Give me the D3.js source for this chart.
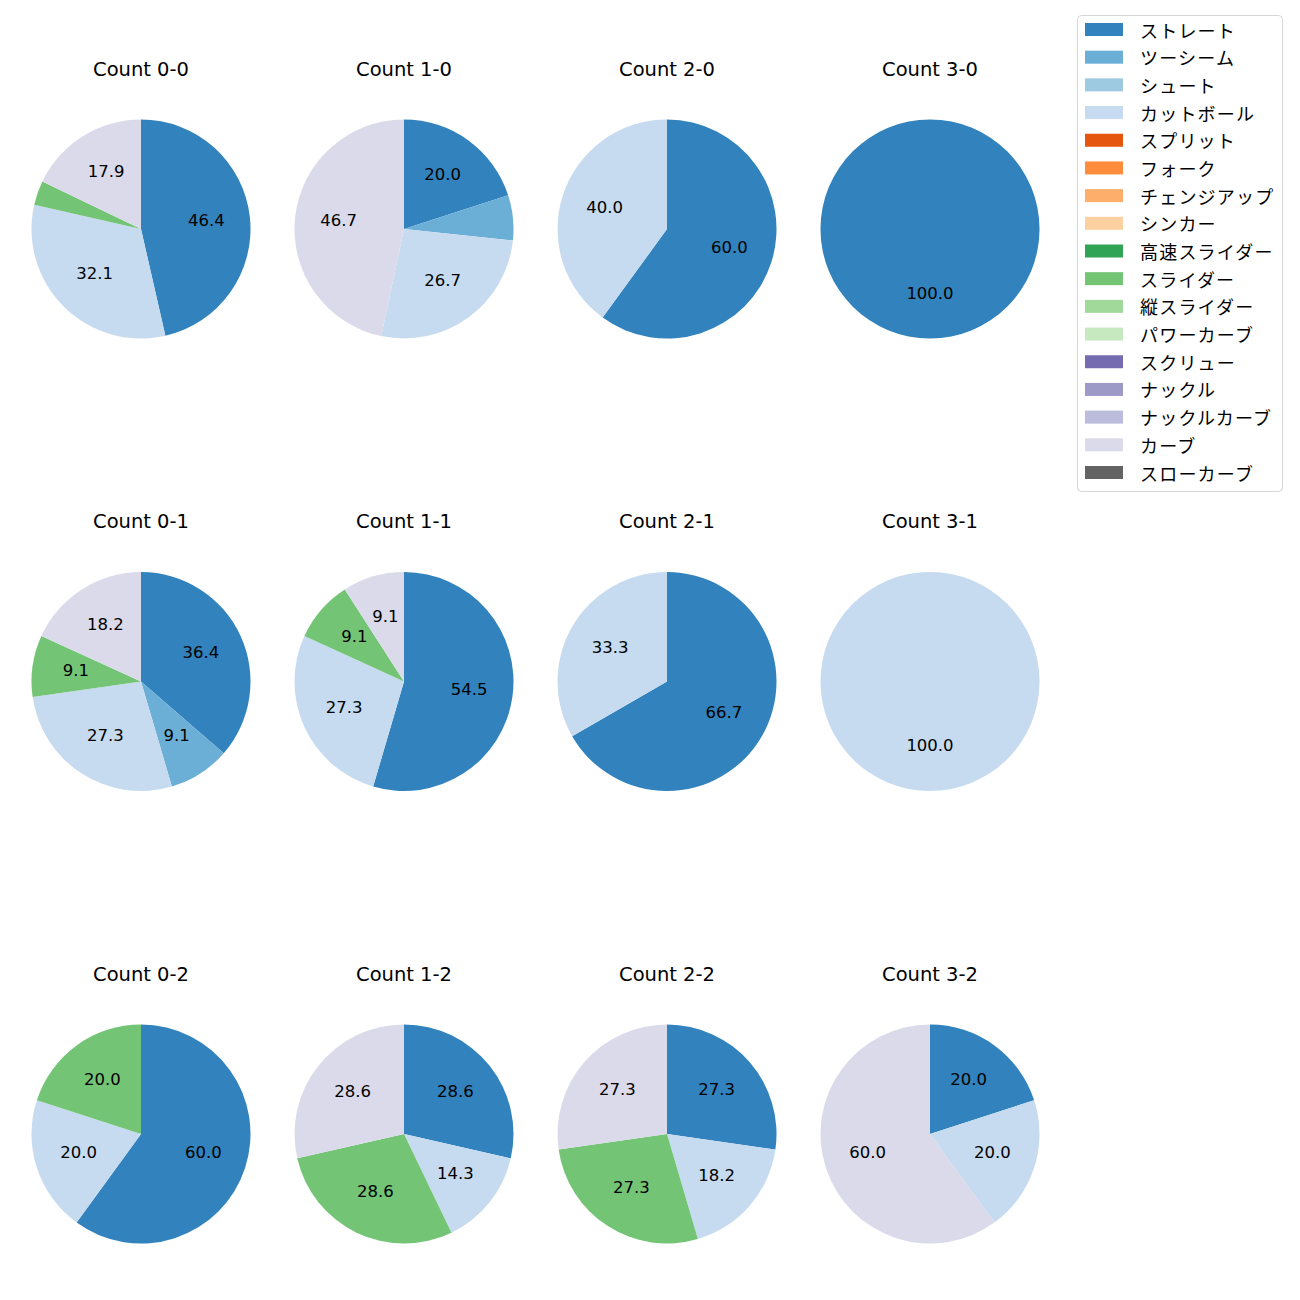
<!DOCTYPE html>
<html><head><meta charset="utf-8">
<script src="https://cdn.jsdelivr.net/npm/d3@7/dist/d3.min.js"></script>
<style>body{margin:0;background:#fff}svg{font-family:"Noto Sans CJK JP",sans-serif}.lat{font-family:"DejaVu Sans","Noto Sans CJK JP",sans-serif}</style>
</head><body>
<svg id="c" width="1300" height="1300"></svg>
<script>
const pitchTypes = ["ストレート","ツーシーム","シュート","カットボール","スプリット","フォーク","チェンジアップ","シンカー","高速スライダー","スライダー","縦スライダー","パワーカーブ","スクリュー","ナックル","ナックルカーブ","カーブ","スローカーブ"];
const colors = ["#3182bd","#6baed6","#9ecae1","#c6dbef","#e6550d","#fd8d3c","#fdae6b","#fdd0a2","#31a354","#74c476","#a1d99b","#c7e9c0","#756bb1","#9e9ac8","#bcbddc","#dadaeb","#636363"];
const counts = ["Count 0-0","Count 1-0","Count 2-0","Count 3-0","Count 0-1","Count 1-1","Count 2-1","Count 3-1","Count 0-2","Count 1-2","Count 2-2","Count 3-2"];
// each: [pitch type, value]
const c00 = [["ストレート",13],["カットボール",9],["スライダー",1],["カーブ",5]];
const c10 = [["ストレート",3],["ツーシーム",1],["カットボール",4],["カーブ",7]];
const c20 = [["ストレート",3],["カットボール",2]];
const c30 = [["ストレート",1]];
const c01 = [["ストレート",4],["ツーシーム",1],["カットボール",3],["スライダー",1],["カーブ",2]];
const c11 = [["ストレート",6],["カットボール",3],["スライダー",1],["カーブ",1]];
const c21 = [["ストレート",2],["カットボール",1]];
const c31 = [["カットボール",1]];
const c02 = [["ストレート",3],["カットボール",1],["スライダー",1]];
const c12 = [["ストレート",2],["カットボール",1],["スライダー",2],["カーブ",2]];
const c22 = [["ストレート",3],["カットボール",2],["スライダー",3],["カーブ",3]];
const c32 = [["ストレート",1],["カットボール",1],["カーブ",3]];
const pieData = [c00,c10,c20,c30,c01,c11,c21,c31,c02,c12,c22,c32];

const svg = d3.select("#c");
const color = d3.scaleOrdinal().domain(pitchTypes).range(colors);
const colX = d3.scalePoint().domain([0,1,2,3]).range([141,930]);
const rowY = d3.scalePoint().domain([0,1,2]).range([229,1134]);
const R = 109.5;
const pie = d3.pie().value(d=>d[1]).sort(null).startAngle(0).endAngle(2*Math.PI);
const arc = d3.arc().innerRadius(0).outerRadius(R);
const labelArc = d3.arc().innerRadius(R*0.6).outerRadius(R*0.6);

pieData.forEach((data,i)=>{
  const cx = colX(i%4), cy = rowY(Math.floor(i/4));
  const g = svg.append("g").attr("transform",`translate(${cx},${cy})`);
  const total = d3.sum(data,d=>d[1]);
  const arcs = pie(data);
  g.selectAll("path").data(arcs).join("path")
    .attr("d",arc).attr("fill",d=>color(d.data[0]));
  g.selectAll("text.l").data(arcs.filter(d=>d.data[1]/total*100>=8)).join("text")
    .attr("class","l lat")
    .attr("transform",d=>{const c=labelArc.centroid(d);return `translate(${c[0]},${c[1]-1.5})`;})
    .attr("text-anchor","middle").attr("dominant-baseline","central")
    .attr("font-size","16.5px").attr("fill","#000")
    .text(d=>(d.data[1]/total*100).toFixed(1));
  svg.append("text").attr("class","lat").attr("x",cx).attr("y",cy-160)
    .attr("text-anchor","middle").attr("dominant-baseline","central")
    .attr("font-size","19.5px").attr("fill","#000").text(counts[i]);
});

// legend
const lg = svg.append("g");
lg.append("rect").attr("x",1077.5).attr("y",15.5).attr("width",205).attr("height",476)
  .attr("rx",4).attr("fill","#fff").attr("stroke","#d5d5d5");
const ly = d3.scalePoint().domain(pitchTypes).range([29.5,472.5]);
pitchTypes.forEach(p=>{
  lg.append("rect").attr("x",1085).attr("y",ly(p)-6.5).attr("width",38).attr("height",13).attr("fill",color(p));
  lg.append("text").attr("x",1140).attr("y",ly(p)).attr("dominant-baseline","central")
    .attr("font-size","18px").attr("letter-spacing","1.2px").attr("fill","#000").text(p);
});
</script>
</body></html>
